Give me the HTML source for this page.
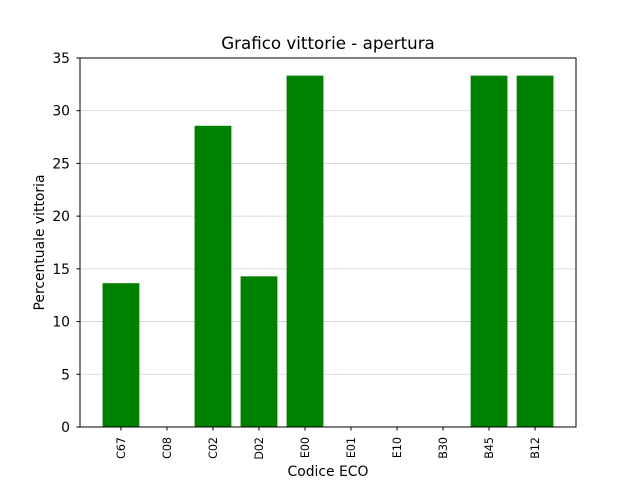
<!DOCTYPE html>
<html><head><meta charset="utf-8"><style>
body{margin:0;background:#fff;}
svg{display:block;font-family:"DejaVu Sans","Liberation Sans",sans-serif;}
</style></head><body>
<svg id="chart" width="640" height="480">
<rect width="640" height="480" fill="#fff"/>
<text x="328" y="49" text-anchor="middle" font-size="16.7">Grafico vittorie - apertura</text>
<g id="grid"></g>
<g id="bars"></g>
<rect x="80" y="58" width="496" height="369" fill="none" stroke="#000" stroke-width="1"/>
<g id="yticks"></g>
<g id="xticks"></g>
<text x="328" y="476" text-anchor="middle" font-size="13.9">Codice ECO</text>
<text transform="translate(44,242.5) rotate(-90)" text-anchor="middle" font-size="13.9">Percentuale vittoria</text>
</svg>
<script>
const categories=["C67","C08","C02","D02","E00","E01","E10","B30","B45","B12"];
const values=[13.64,0,28.57,14.29,33.33,0,0,0,33.33,33.33];
const yTicks=[0,5,10,15,20,25,30,35];
const NS="http://www.w3.org/2000/svg";
const L=80,R=576,T=58,B=427,yMax=35;
const xMin=-0.89,xMax=categories.length-1+0.89;
const xs=i=>L+(i-xMin)/(xMax-xMin)*(R-L);
const ys=v=>B-v/yMax*(B-T);
function mk(t,a,p){const e=document.createElementNS(NS,t);for(const k in a)e.setAttribute(k,a[k]);p.appendChild(e);return e;}
const grid=document.getElementById('grid'),bars=document.getElementById('bars'),yt=document.getElementById('yticks'),xt=document.getElementById('xticks');
yTicks.forEach(v=>{
 const y=ys(v);
 if(v>0&&v<yMax){const g=mk('line',{x1:L,x2:R,y1:y,y2:y,stroke:'#d3d3d3','stroke-width':0.8},grid);
 
 }
 mk('line',{x1:L-3.5,x2:L,y1:y,y2:y,stroke:'#000'},yt);
 const t=mk('text',{x:L-10,y:y+5,'text-anchor':'end','font-size':13.9},yt);
 t.textContent=v;
 
 
});
const bw=0.8*(R-L)/(xMax-xMin);
categories.forEach((c,i)=>{
 const x=xs(i);
 const r=mk('rect',{x:x-bw/2,y:ys(values[i]),width:bw,height:B-ys(values[i]),fill:'#008000'},bars);
 
 
 mk('line',{x1:x,x2:x,y1:B,y2:B+3.5,stroke:'#000'},xt);
 const t=mk('text',{transform:`translate(${x+4},${B+10}) rotate(-90)`,'text-anchor':'end','font-size':11.1},xt);
 t.textContent=c;
 
 
});
</script>
</body></html>
